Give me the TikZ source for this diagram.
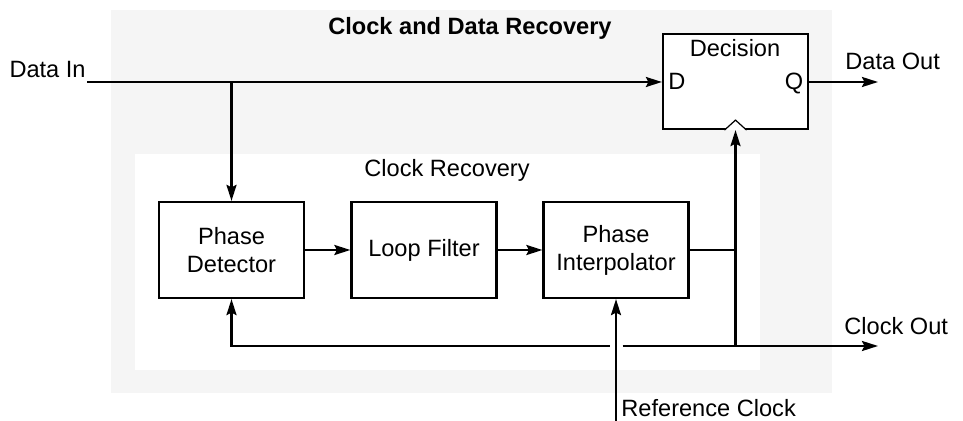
\documentclass[tikz,border=0pt]{standalone}
\usepackage{fontspec}
\setmainfont{Liberation Sans}
\usetikzlibrary{arrows.meta}
\definecolor{bggray}{RGB}{245,245,245}
\begin{document}
\begin{tikzpicture}[x=0.5pt,y=-0.5pt,
  font=\fontsize{11.8pt}{14pt}\selectfont,
  blk/.style={draw, line width=1.1pt, fill=white, minimum width=72.5pt, minimum height=48pt, align=center, inner sep=0pt},
  wire/.style={line width=1.1pt},
  arr/.style={wire, -{Stealth[length=8pt,width=5pt,inset=1.2pt]}},
  lbl/.style={inner sep=0pt}
]
\useasboundingbox (0,0) rectangle (963,421);
% backgrounds
\fill[bggray] (111,10) rectangle (832,393);
\fill[white] (135,154) rectangle (760,370);
% titles
\node[lbl, anchor=base, font=\fontsize{11.8pt}{14pt}\selectfont\bfseries] (title) at (470,35) {Clock and Data Recovery};
\node[lbl, anchor=base] (crt) at (447,177) {Clock Recovery};
% blocks
\node[blk] (pd) at (231.5,250) {Phase\\Detector};
\node[blk] (lf) at (424,250) {Loop Filter};
\node[blk] (pi) at (616,250) {Phase\\Interpolator};
\node[blk, minimum height=47.5pt] (dec) at (735.5,81.5) {};
\node[lbl, anchor=base] (dect) at (735,57) {Decision};
\node[lbl, anchor=base] (dd) at (677,90) {D};
\node[lbl, anchor=base] (dq) at (794,90) {Q};
\draw[line width=0.6pt, fill=white] ([xshift=-5.5pt]dec.south) -- ([yshift=5pt]dec.south) -- ([xshift=5.5pt]dec.south);
% outer labels
\node[lbl, anchor=base east] (din) at (86,78) {Data In};
\node[lbl, anchor=base west] (dout) at (845,70) {Data Out};
\node[lbl, anchor=base west] (cout) at (844,335) {Clock Out};
\node[lbl, anchor=base west] (refc) at (621,417) {Reference Clock};
% coordinates
\coordinate (din0) at (87,82);
\coordinate (br) at (pd.north |- din0);
\coordinate (tap) at (pi.east -| dec.south);
\coordinate (fbr) at (dec.south |- 0,346);
\coordinate (fbl) at (pd.south |- 0,346);
\coordinate (gapL) at (609.5,346);
\coordinate (gapR) at (622.5,346);
\coordinate (coutend) at (878,346);
\coordinate (doutend) at (878,82);
\coordinate (ref0) at (pi.south |- 0,421);
% connectors
\draw[arr] (din0) -- (dec.west |- din0);
\draw[arr] (br) -- (pd.north);
\draw[arr] (pd) -- (lf);
\draw[arr] (lf) -- (pi);
\draw[wire] (pi.east) -- (tap);
\draw[arr] (tap) -- (dec.south);
\draw[wire] (tap) -- (fbr);
\draw[arr] (gapL) -- (fbl) -- (pd.south);
\draw[arr] (gapR) -- (coutend);
\draw[arr] (dec.east |- doutend) -- (doutend);
\draw[arr] (ref0) -- (pi.south);
\end{tikzpicture}
\end{document}
